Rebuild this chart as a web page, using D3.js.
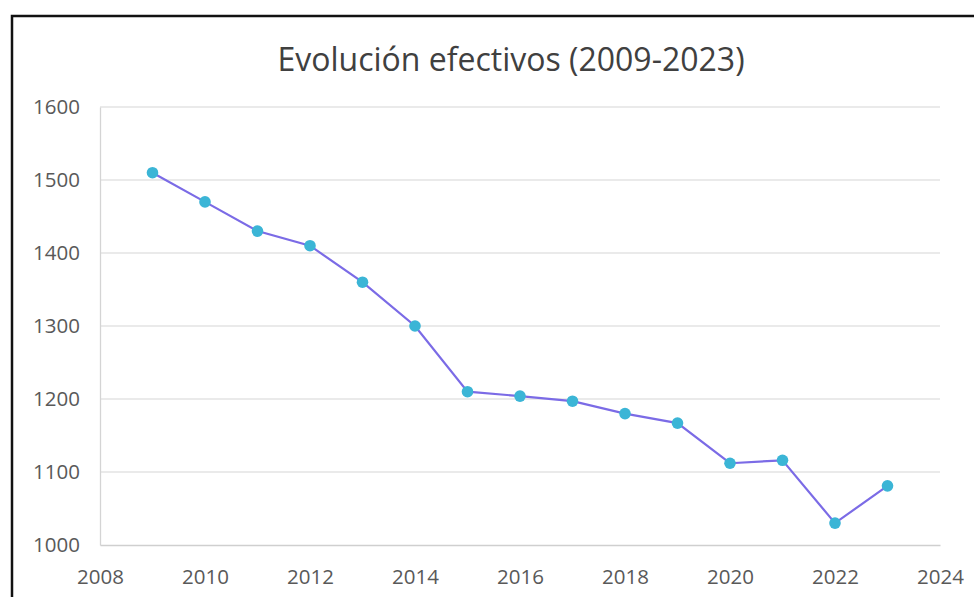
<!DOCTYPE html>
<html><head><meta charset="utf-8">
<script src="https://cdn.jsdelivr.net/npm/d3@7"></script>
<style>body{margin:0;background:#fff}svg{display:block}</style>
</head><body>
<script>
const years = [2009,2010,2011,2012,2013,2014,2015,2016,2017,2018,2019,2020,2021,2022,2023];
const efectivos = [1510,1470,1430,1410,1360,1300,1210,1204,1197,1180,1167,1112,1116,1030,1081];
const xTicks = [2008,2010,2012,2014,2016,2018,2020,2022,2024];
const yTicks = [1000,1100,1200,1300,1400,1500,1600];
const title = "Evolución efectivos (2009-2023)";

const W = 974, H = 597;
const svg = d3.select("body").append("svg").attr("width", W).attr("height", H);
svg.append("rect").attr("width", W).attr("height", H).attr("fill", "#fff");
// outer border
svg.append("rect").attr("x", 12).attr("y", 16).attr("width", W).attr("height", H)
  .attr("fill", "none").attr("stroke", "#111").attr("stroke-width", 2.5);

const x = d3.scaleLinear().domain([2008, 2024]).range([100, 940]);
const y = d3.scaleLinear().domain([1000, 1600]).range([545, 107]);
const font = "Open Sans, sans-serif";

svg.append("text").attr("x", 511).attr("y", 71).attr("text-anchor", "middle")
  .attr("font-family", font).attr("font-size", 32).attr("fill", "#404040")
  .text(title);

// gridlines
svg.append("g").selectAll("line").data(yTicks.filter(d => d > 1000)).join("line")
  .attr("x1", 100).attr("x2", 940).attr("y1", d => y(d)).attr("y2", d => y(d))
  .attr("stroke", "#e3e3e3").attr("stroke-width", 1.3);

const yAxis = svg.append("g").attr("transform", "translate(100,0)")
  .call(d3.axisLeft(y).tickValues(yTicks).tickSize(0).tickPadding(20).tickFormat(d3.format("d")));
yAxis.select(".domain").attr("stroke", "#d4d4d4").attr("stroke-width", 1.3);
yAxis.selectAll("text").attr("font-family", font).attr("font-size", 20.5).attr("fill", "#595959");

const xAxis = svg.append("g").attr("transform", "translate(0,545)")
  .call(d3.axisBottom(x).tickValues(xTicks).tickSize(0).tickPadding(24).tickFormat(d3.format("d")));
xAxis.select(".domain").attr("stroke", "#cfcfcf").attr("stroke-width", 1.5);
xAxis.selectAll("text").attr("font-family", font).attr("font-size", 20.5).attr("fill", "#595959");

const line = d3.line().x((d, i) => x(years[i])).y(d => y(d));
svg.append("path").datum(efectivos).attr("d", line)
  .attr("fill", "none").attr("stroke", "#7b6be6").attr("stroke-width", 2.2);

svg.append("g").selectAll("circle").data(efectivos).join("circle")
  .attr("cx", (d, i) => x(years[i])).attr("cy", d => y(d)).attr("r", 5.8)
  .attr("fill", "#3bb5d6");
</script>
</body></html>
